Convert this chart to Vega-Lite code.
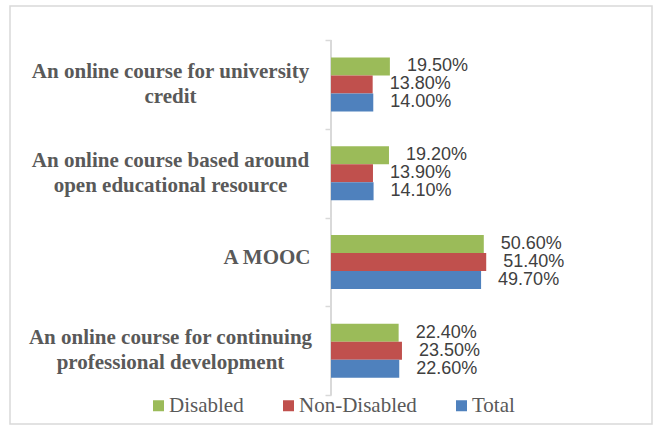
{
  "$schema": "https://vega.github.io/schema/vega-lite/v6.json",
  "width": 642,
  "height": 418,
  "autosize": {"type": "none"},
  "padding": {"left": 10, "top": 6, "right": 3, "bottom": 4},
  "background": "white",
  "config": {"view": {"stroke": "#d9d9d9", "strokeWidth": 1.5}},
  "data": {
    "values": [
      {"course": "An online course for university credit", "series": "Disabled", "value": 0.195},
      {"course": "An online course for university credit", "series": "Non-Disabled", "value": 0.138},
      {"course": "An online course for university credit", "series": "Total", "value": 0.140},
      {"course": "An online course based around open educational resource", "series": "Disabled", "value": 0.192},
      {"course": "An online course based around open educational resource", "series": "Non-Disabled", "value": 0.139},
      {"course": "An online course based around open educational resource", "series": "Total", "value": 0.141},
      {"course": "A MOOC", "series": "Disabled", "value": 0.506},
      {"course": "A MOOC", "series": "Non-Disabled", "value": 0.514},
      {"course": "A MOOC", "series": "Total", "value": 0.497},
      {"course": "An online course for continuing professional development", "series": "Disabled", "value": 0.224},
      {"course": "An online course for continuing professional development", "series": "Non-Disabled", "value": 0.235},
      {"course": "An online course for continuing professional development", "series": "Total", "value": 0.226}
    ]
  },
  "encoding": {
    "y": {
      "field": "course",
      "type": "nominal",
      "sort": [
        "An online course for university credit",
        "An online course based around open educational resource",
        "A MOOC",
        "An online course for continuing professional development"
      ],
      "scale": {"paddingInner": 0, "paddingOuter": 0.355, "align": 0.54},
      "axis": {
        "title": null,
        "orient": "left",
        "offset": -321,
        "domain": false,
        "grid": false,
        "ticks": true,
        "tickBand": "extent",
        "tickSize": 6,
        "tickColor": "#d9d9d9",
        "tickWidth": 1.5,
        "labelAlign": {"condition": {"test": "datum.value == 'A MOOC'", "value": "right"}, "value": "center"},
        "labelPadding": {"condition": {"test": "datum.value == 'A MOOC'", "value": 15}, "value": 155},
        "labelOffset": {"condition": {"test": "datum.value == 'A MOOC'", "value": -4}, "value": -13},
        "labelFont": "Liberation Serif",
        "labelFontWeight": "bold",
        "labelFontSize": 21,
        "labelColor": "#595959",
        "labelLineHeight": 25,
        "labelLimit": 400,
        "labelExpr": "datum.value == 'An online course for university credit' ? ['An online course for university', 'credit'] : datum.value == 'An online course based around open educational resource' ? ['An online course based around', 'open educational resource'] : datum.value == 'An online course for continuing professional development' ? ['An online course for continuing', 'professional development'] : datum.label"
      }
    },
    "x": {
      "field": "value",
      "type": "quantitative",
      "scale": {"domain": [-1.063, 1.063], "nice": false, "zero": false},
      "axis": null
    }
  },
  "layer": [
    {
      "mark": {"type": "tick", "color": "#d9d9d9", "thickness": 1.5, "size": 89, "opacity": 1},
      "encoding": {"x": {"datum": 0, "type": "quantitative"}}
    },
    {
      "mark": {"type": "bar"},
      "encoding": {
        "yOffset": {
          "field": "series",
          "type": "nominal",
          "sort": ["Disabled", "Non-Disabled", "Total"],
          "scale": {"paddingInner": 0, "paddingOuter": 0.965}
        },
        "color": {
          "field": "series",
          "type": "nominal",
          "scale": {"domain": ["Disabled", "Non-Disabled", "Total"], "range": ["#9BBB59", "#C0504D", "#4F81BD"]},
          "legend": {
            "title": null,
            "orient": "none",
            "legendX": 138,
            "legendY": 389,
            "direction": "horizontal",
            "symbolType": "square",
            "symbolSize": 121,
            "symbolStrokeWidth": 0,
            "labelFont": "Liberation Serif",
            "labelFontSize": 21,
            "labelColor": "#595959",
            "labelOffset": 0,
            "columnPadding": 34,
            "padding": 0
          }
        }
      }
    },
    {
      "mark": {"type": "text", "align": "left", "baseline": "middle", "dx": 17, "font": "Liberation Sans", "fontSize": 18, "color": "#404040"},
      "encoding": {
        "yOffset": {
          "field": "series",
          "type": "nominal",
          "sort": ["Disabled", "Non-Disabled", "Total"],
          "scale": {"paddingInner": 0, "paddingOuter": 0.965}
        },
        "text": {"field": "value", "type": "quantitative", "format": ".2%"}
      }
    }
  ]
}
